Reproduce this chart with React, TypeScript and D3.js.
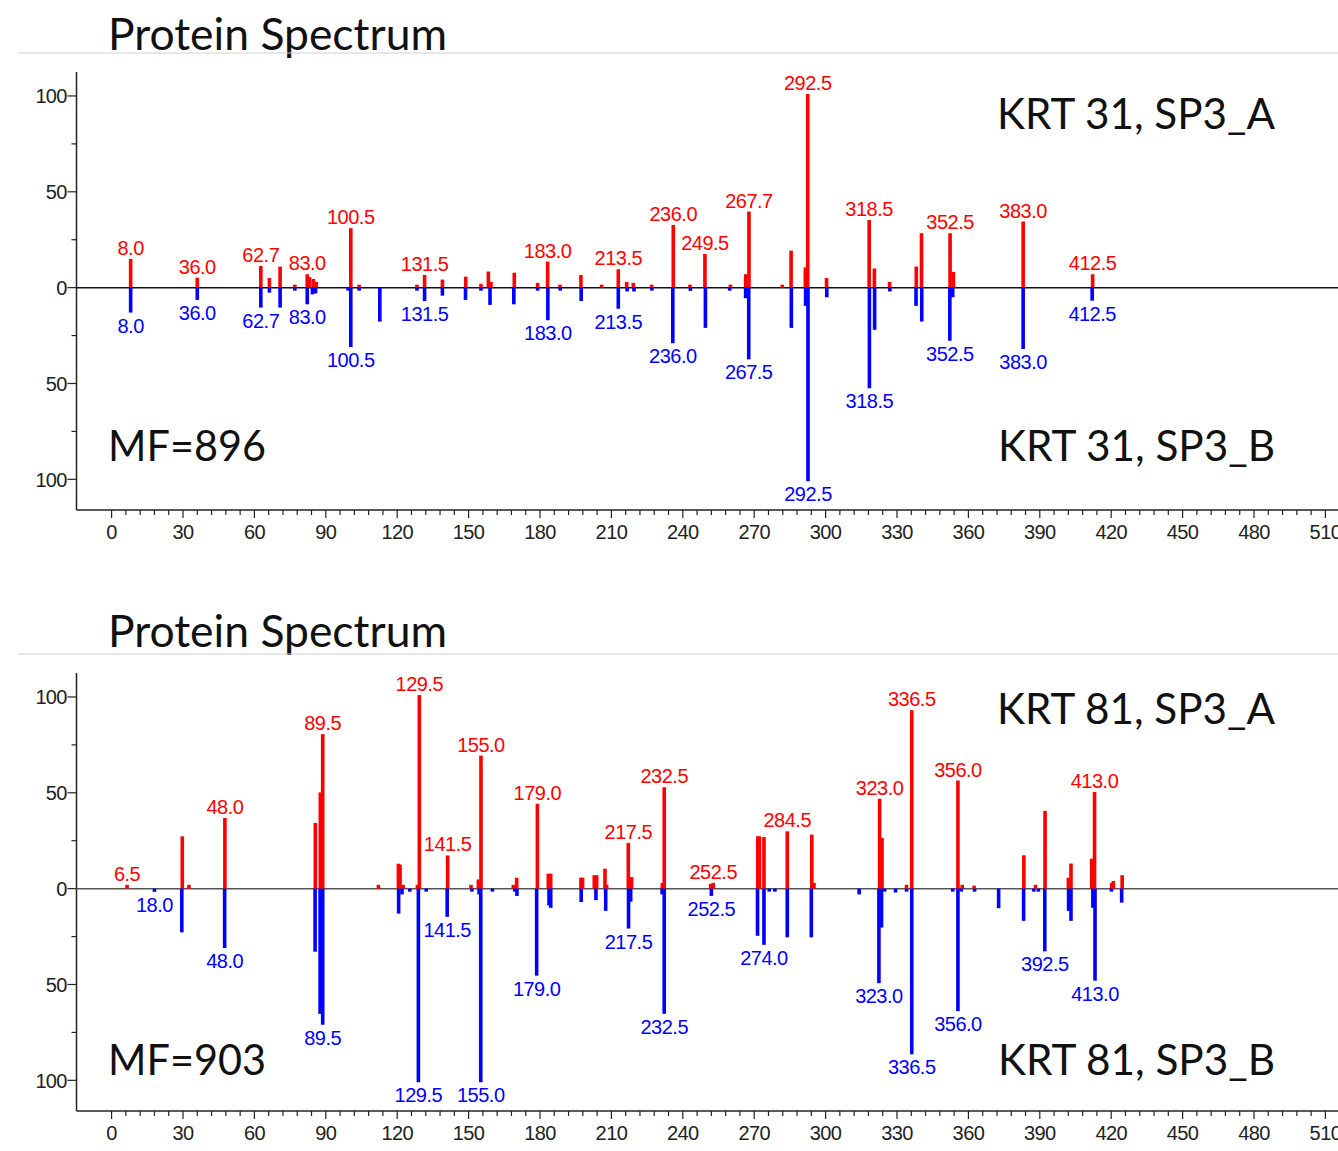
import React from 'react';
import * as d3 from 'd3';

// peaks as [m/z, relative intensity], A plotted up (red), B plotted down (blue)
const krt31A: [number, number][] = [
  [8.0, 15], [36.0, 5.2], [62.7, 11.3], [66.3, 5], [70.8, 11], [77, 1.5], [82.2, 7], [83.2, 5.5],
  [84.8, 4.5], [86, 3], [100.5, 31], [104, 1.5], [128.3, 1.5], [131.5, 6.6], [139, 4.2], [148.8, 5.7],
  [155.2, 2], [158.3, 8.4], [159.4, 3], [169.2, 7.8], [179, 2.5], [183.2, 13.6], [188.4, 1.5],
  [197.2, 6.6], [205.9, 1.5], [212.9, 9.6], [216.4, 3], [219.2, 2.5], [226.9, 1.5], [236, 32.7],
  [243, 1.5], [249.3, 17.6], [260, 1.5], [266.4, 7], [267.8, 39.7], [281.8, 1.5], [285.5, 19.3],
  [291.5, 10.6], [292.5, 101], [300.4, 5], [318.3, 35.3], [320.5, 10], [326.9, 3], [338.1, 11],
  [340.3, 28.4], [352.3, 28.4], [353.7, 8.2], [383, 34.5], [412.2, 7],
];
const krt31B: [number, number][] = [
  [8.0, 13], [36.0, 6.4], [62.7, 10.4], [66.3, 2.6], [70.8, 10.4], [77, 1.5], [82.2, 8.7], [84.4, 3.5],
  [85.7, 3], [99.4, 1.5], [100.5, 31], [104, 1.5], [112.7, 17.7], [128.3, 1.5], [131.5, 7], [139, 4.2],
  [148.7, 6.4], [155.2, 1.5], [159, 9], [169, 8.7], [179, 1.5], [183.3, 17], [188.5, 1.5], [197.3, 7],
  [212.9, 11], [216.6, 2], [219.5, 2], [227, 1.5], [235.8, 29], [243.2, 1.7], [249.5, 21],
  [259.7, 1.5], [266.4, 5.5], [267.7, 37.4], [285.6, 21], [291.6, 9.5], [292.6, 101], [300.5, 5],
  [318.4, 52.5], [320.6, 22], [327, 2], [338, 9.5], [340.4, 17.7], [352.2, 27.7], [353.4, 5],
  [383, 32], [412, 6.8],
];
const krt31LabelsA = ['8.0', '36.0', '62.7', '83.0', '100.5', '131.5', '183.0', '213.5', '236.0',
  '249.5', '267.7', '292.5', '318.5', '352.5', '383.0', '412.5'];
const krt31LabelsB = ['8.0', '36.0', '62.7', '83.0', '100.5', '131.5', '183.0', '213.5', '236.0',
  '267.5', '292.5', '318.5', '352.5', '383.0', '412.5'];

const krt81A: [number, number][] = [
  [6.5, 2], [29.7, 27.3], [32.5, 2], [47.6, 36.9], [85.6, 34.3], [87.7, 50.2], [88.7, 80.6],
  [112.1, 2], [120.5, 13], [121.2, 12.5], [122.5, 2], [128.5, 2], [129.3, 101], [141.2, 17.3],
  [151, 2], [154.1, 4.8], [155.2, 69.4], [168.8, 2], [170.2, 5.7], [178.9, 44.3], [183.5, 7.8],
  [184.5, 7.8], [197.2, 5.7], [197.9, 5.7], [202.8, 7], [203.8, 7], [207.3, 10.4], [208, 2],
  [217.1, 23.9], [218.5, 6], [231.4, 3], [232.2, 52.9], [251.7, 2.5], [252.8, 3], [271.5, 27.3],
  [272.2, 27.3], [274.1, 26.9], [283.9, 29.9], [294.2, 28.2], [295.1, 3], [322.7, 46.9],
  [323.7, 26.5], [334, 2], [336.2, 93.1], [355.6, 56.4], [357.4, 2], [362.4, 1.5], [383.3, 17.4],
  [388.2, 2], [392.2, 40.6], [402, 5.7], [403.1, 13.1], [411.8, 15.6], [413, 50.4], [420.2, 3],
  [420.9, 4], [424.6, 7],
];
const krt81B: [number, number][] = [
  [18, 1.7], [29.5, 22.8], [47.5, 31], [85.5, 32.9], [87.6, 65.3], [88.7, 71], [120.6, 13],
  [122, 3], [125.3, 1.5], [128.9, 101], [132.2, 1.5], [141, 14.7], [151.4, 1.5], [154.4, 3],
  [155.1, 101], [160, 1.5], [169.4, 1.5], [170.3, 3.8], [178.6, 45.4], [183.8, 8.7], [184.5, 10],
  [197.3, 7], [203.5, 6], [207.6, 11.6], [217.2, 20.8], [218.1, 6.8], [231.3, 3], [232.2, 65.3],
  [252, 3.8], [271.4, 24.6], [274.1, 29.3], [276.3, 1.5], [278.7, 1.5], [283.9, 25.4], [294, 25.4],
  [314.1, 3], [322.4, 49.3], [323.5, 20.3], [324.8, 1.5], [329.4, 2], [334, 1.5], [336.2, 86.4],
  [353.4, 1.5], [355.6, 63.9], [357, 1.5], [362.6, 1.5], [372.7, 10.2], [383.2, 16.8], [387.5, 1.5],
  [389.4, 1.5], [392.1, 32.7], [402.1, 11.6], [403.1, 16.8], [412.3, 10], [413.2, 48], [420.1, 1.5],
  [424.4, 7.3],
];
const krt81LabelsA = ['6.5', '48.0', '89.5', '129.5', '141.5', '155.0', '179.0', '217.5', '232.5',
  '252.5', '284.5', '323.0', '336.5', '356.0', '413.0'];
const krt81LabelsB = ['18.0', '48.0', '89.5', '129.5', '141.5', '155.0', '179.0', '217.5', '232.5',
  '252.5', '274.0', '323.0', '336.5', '356.0', '392.5', '413.0'];

const xTickLabels = [0, 30, 60, 90, 120, 150, 180, 210, 240, 270, 300, 330, 360, 390, 420, 450, 480, 510];
const yTickLabels = [100, 50, 0, -50, -100];

const W = 1338;
const H = 1151;
const AXIS_X = 76.5;
const PLOT_H = 438;
const RED = '#ff0000';
const BLUE = '#0000ff';
const NUM_FONT = '"Liberation Sans", Arial, sans-serif';
const BIG_FONT = 'Lato, "Open Sans", sans-serif';

const x = d3.scaleLinear().domain([0, 510]).range([111.6, 1325.4]);

// pick the tallest peak near the label's m/z
const anchorPeak = (series: [number, number][], lab: string) => {
  const v = parseFloat(lab);
  const near = series.filter(d => Math.abs(d[0] - v) <= 1.5);
  const pool = near.length ? near : series;
  return pool.reduce((a, b) => {
    if (!near.length) return Math.abs(b[0] - v) < Math.abs(a[0] - v) ? b : a;
    return b[1] > a[1] ? b : a;
  });
};

type PanelProps = {
  top: number;
  seriesA: [number, number][];
  seriesB: [number, number][];
  labelsA: string[];
  labelsB: string[];
  nameA: string;
  nameB: string;
  mf: string;
  titleY: number;
  nameAY: number;
  nameBY: number;
  zeroColor: string;
};

const Panel = ({ top, seriesA, seriesB, labelsA, labelsB, nameA, nameB, mf, titleY, nameAY, nameBY, zeroColor }: PanelProps) => {
  const bottom = top + PLOT_H;
  const y = d3.scaleLinear().domain([-116, 112.5]).range([bottom, top]);
  const y0 = y(0);
  const barW = 3.6;
  const minorX = d3.range(0, 511, 6).filter(v => v % 30 !== 0);
  const minorY = [75, 25, -25, -75];

  return (
    <g>
      <text x={108} y={titleY} fontFamily={BIG_FONT} fontSize={44} fill="#111"
        textLength={339} lengthAdjust="spacingAndGlyphs">Protein Spectrum</text>
      <line x1={18} x2={W} y1={top - 19} y2={top - 19} stroke="#d0d0d0" strokeWidth={1} />

      {/* axes */}
      <line x1={AXIS_X} x2={AXIS_X} y1={top} y2={bottom} stroke="#222" strokeWidth={1.5} />
      <line x1={AXIS_X} x2={W} y1={bottom} y2={bottom} stroke="#222" strokeWidth={1.5} />
      {yTickLabels.map(t => (
        <g key={'yt' + t}>
          <line x1={AXIS_X - 9} x2={AXIS_X} y1={y(t)} y2={y(t)} stroke="#222" strokeWidth={1.2} />
          <text x={AXIS_X - 10} y={y(t)} dy="0.36em" textAnchor="end" fontFamily={NUM_FONT}
            fontSize={20} letterSpacing={-0.8} fill="#222">{Math.abs(t)}</text>
        </g>
      ))}
      {minorY.map(t => (
        <line key={'ym' + t} x1={AXIS_X - 5} x2={AXIS_X} y1={y(t)} y2={y(t)} stroke="#222" strokeWidth={1.2} />
      ))}
      {xTickLabels.map(t => (
        <g key={'xt' + t}>
          <line x1={x(t)} x2={x(t)} y1={bottom} y2={bottom + 8} stroke="#222" strokeWidth={1.2} />
          <text x={x(t)} y={bottom + 29} textAnchor="middle" fontFamily={NUM_FONT} fontSize={20}
            letterSpacing={-0.6} fill="#222">{t}</text>
        </g>
      ))}
      {minorX.map(t => (
        <line key={'xm' + t} x1={x(t)} x2={x(t)} y1={bottom} y2={bottom + 5} stroke="#222" strokeWidth={1.2} />
      ))}

      {/* zero line */}
      <line x1={AXIS_X} x2={W} y1={y0} y2={y0} stroke={zeroColor} strokeWidth={1.5} />

      {/* peaks */}
      {seriesA.map((d, i) => {
        const h = Math.max(y0 - y(d[1]), 3);
        return <rect key={'a' + i} x={x(d[0]) - barW / 2} y={y0 - h} width={barW} height={h} fill={RED} />;
      })}
      {seriesB.map((d, i) => {
        const h = Math.max(y(-d[1]) - y0, 3);
        return <rect key={'b' + i} x={x(d[0]) - barW / 2} y={y0} width={barW} height={h} fill={BLUE} />;
      })}

      {/* peak labels */}
      {labelsA.map(lab => {
        const p = anchorPeak(seriesA, lab);
        return (
          <text key={'la' + lab} x={x(p[0])} y={y(p[1]) - 4} textAnchor="middle" fontFamily={NUM_FONT}
            fontSize={20} letterSpacing={-0.5} fill={RED}>{lab}</text>
        );
      })}
      {labelsB.map(lab => {
        const p = anchorPeak(seriesB, lab);
        return (
          <text key={'lb' + lab} x={x(p[0])} y={y(-p[1]) + 20} textAnchor="middle" fontFamily={NUM_FONT}
            fontSize={20} letterSpacing={-0.5} fill={BLUE}>{lab}</text>
        );
      })}

      <text x={997} y={nameAY} fontFamily={BIG_FONT} fontSize={43} fill="#111"
        textLength={278} lengthAdjust="spacingAndGlyphs">{nameA}</text>
      <text x={998} y={nameBY} fontFamily={BIG_FONT} fontSize={43} fill="#111"
        textLength={277} lengthAdjust="spacingAndGlyphs">{nameB}</text>
      <text x={108} y={nameBY} fontFamily={BIG_FONT} fontSize={43} fill="#111"
        textLength={158} lengthAdjust="spacingAndGlyphs">{mf}</text>
    </g>
  );
};

export default function App() {
  return (
    <svg width={W} height={H} viewBox={`0 0 ${W} ${H}`}
      style={{ position: 'absolute', left: 0, top: 0, background: '#fff' }}>
      <rect width={W} height={H} fill="#fff" />
      <Panel top={72} seriesA={krt31A} seriesB={krt31B} labelsA={krt31LabelsA} labelsB={krt31LabelsB}
        nameA="KRT 31, SP3_A" nameB="KRT 31, SP3_B" mf="MF=896"
        titleY={50} nameAY={129} nameBY={461} zeroColor="#111" />
      <Panel top={673} seriesA={krt81A} seriesB={krt81B} labelsA={krt81LabelsA} labelsB={krt81LabelsB}
        nameA="KRT 81, SP3_A" nameB="KRT 81, SP3_B" mf="MF=903"
        titleY={647} nameAY={724} nameBY={1075} zeroColor="#555" />
    </svg>
  );
}
